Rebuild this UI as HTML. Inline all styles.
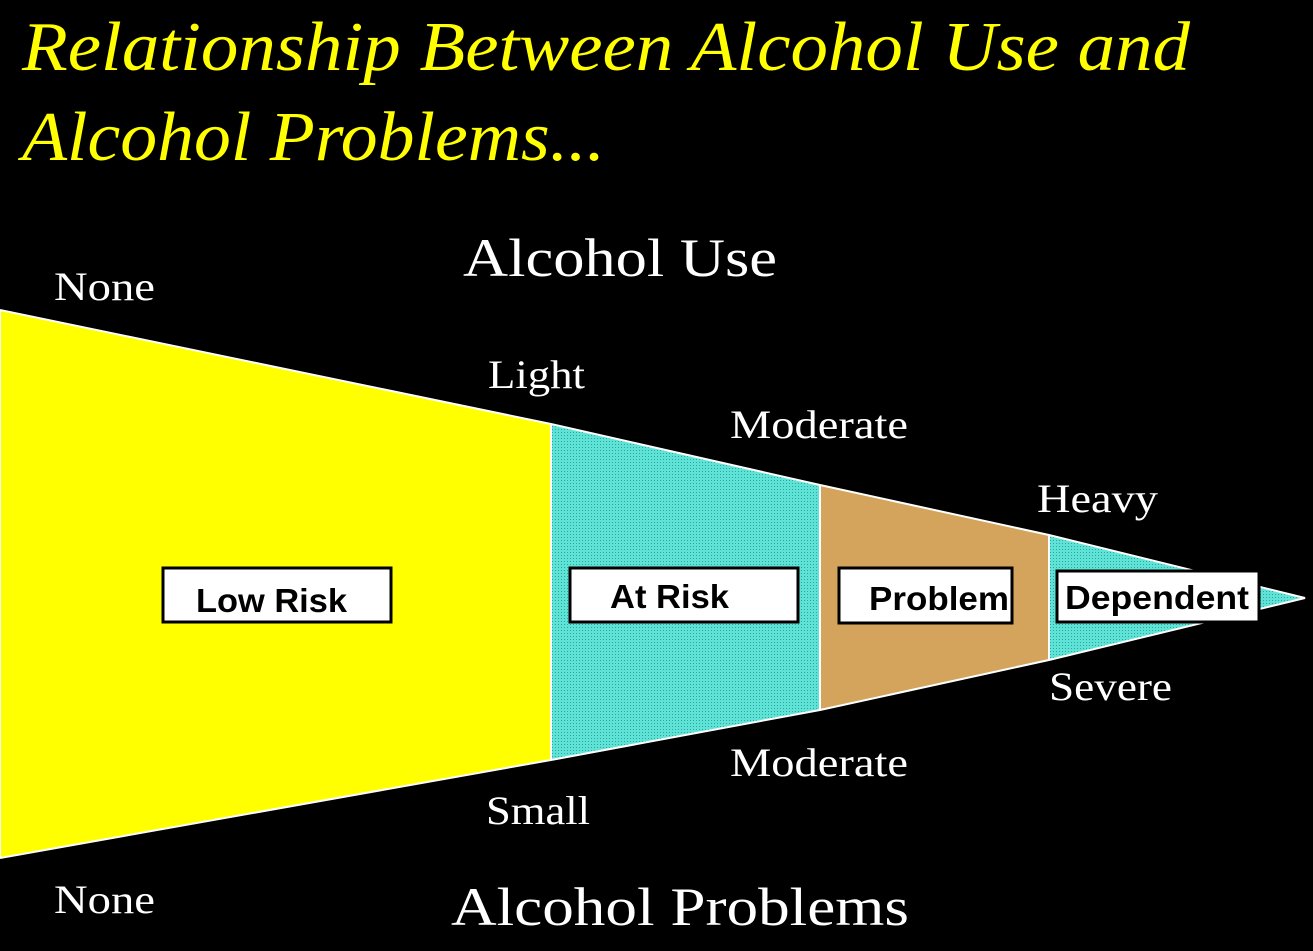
<!DOCTYPE html>
<html><head><meta charset="utf-8"><style>
html,body{margin:0;padding:0;background:#000;}
svg{display:block;}
</style></head><body>
<svg width="1313" height="951" viewBox="0 0 1313 951" xmlns="http://www.w3.org/2000/svg">
<defs>
<pattern id="dots" width="3" height="3" patternUnits="userSpaceOnUse">
<rect width="3" height="3" fill="#5fe3d6"/>
<rect width="1" height="1" fill="#2aa89c"/>
</pattern>
</defs>
<rect width="1313" height="951" fill="#000"/>
<g font-family="'Liberation Serif', serif" font-style="italic" fill="#ffff00" font-size="70">
<text x="22" y="70" textLength="1168" lengthAdjust="spacingAndGlyphs">Relationship Between Alcohol Use and</text>
<text x="22" y="160" textLength="583" lengthAdjust="spacingAndGlyphs">Alcohol Problems...</text>
</g>
<polygon points="0,310 551,424 551,760 0,858" fill="#ffff00"/>
<polygon points="551,424 820,485 820,710 551,760" fill="url(#dots)"/>
<polygon points="820,485 1049,535 1049,660 820,710" fill="#d4a45c"/>
<polygon points="1049,535 1305,598 1049,660" fill="url(#dots)"/>
<polyline points="0,310 551,424 820,485 1049,535 1305,598 1049,660 820,710 551,760 0,858" fill="none" stroke="#fff" stroke-width="2"/>
<line x1="551" y1="424" x2="551" y2="760" stroke="#fff" stroke-width="2"/>
<line x1="820" y1="485" x2="820" y2="710" stroke="#fff" stroke-width="2"/>
<line x1="1049" y1="535" x2="1049" y2="660" stroke="#fff" stroke-width="2"/>
<line x1="0" y1="310" x2="0" y2="858" stroke="#fff" stroke-width="2"/>
<g fill="#fff" stroke="#000" stroke-width="3">
<rect x="163" y="568" width="228" height="54"/>
<rect x="570" y="568" width="228" height="54"/>
<rect x="839" y="568" width="173" height="55"/>
<rect x="1057" y="571" width="202" height="51"/>
</g>
<g font-family="'Liberation Sans', sans-serif" font-weight="bold" font-size="33" fill="#000">
<text x="196" y="612" textLength="151" lengthAdjust="spacingAndGlyphs">Low Risk</text>
<text x="610" y="608" textLength="119" lengthAdjust="spacingAndGlyphs">At Risk</text>
<text x="869" y="610" textLength="140" lengthAdjust="spacingAndGlyphs">Problem</text>
<text x="1065" y="609" textLength="184" lengthAdjust="spacingAndGlyphs">Dependent</text>
</g>
<g font-family="'Liberation Serif', serif" fill="#fff" font-size="40" lengthAdjust="spacingAndGlyphs">
<text x="463" y="276" font-size="54" textLength="314" lengthAdjust="spacingAndGlyphs">Alcohol Use</text>
<text x="451" y="925" font-size="54" textLength="458" lengthAdjust="spacingAndGlyphs">Alcohol Problems</text>
<text x="54" y="300" textLength="101" lengthAdjust="spacingAndGlyphs">None</text>
<text x="54" y="913" textLength="101" lengthAdjust="spacingAndGlyphs">None</text>
<text x="488" y="388" textLength="97" lengthAdjust="spacingAndGlyphs">Light</text>
<text x="730" y="438" textLength="178" lengthAdjust="spacingAndGlyphs">Moderate</text>
<text x="1037" y="512" textLength="121" lengthAdjust="spacingAndGlyphs">Heavy</text>
<text x="1049" y="700" textLength="123" lengthAdjust="spacingAndGlyphs">Severe</text>
<text x="730" y="776" textLength="178" lengthAdjust="spacingAndGlyphs">Moderate</text>
<text x="486" y="824" textLength="104" lengthAdjust="spacingAndGlyphs">Small</text>
</g>
</svg>
</body></html>
